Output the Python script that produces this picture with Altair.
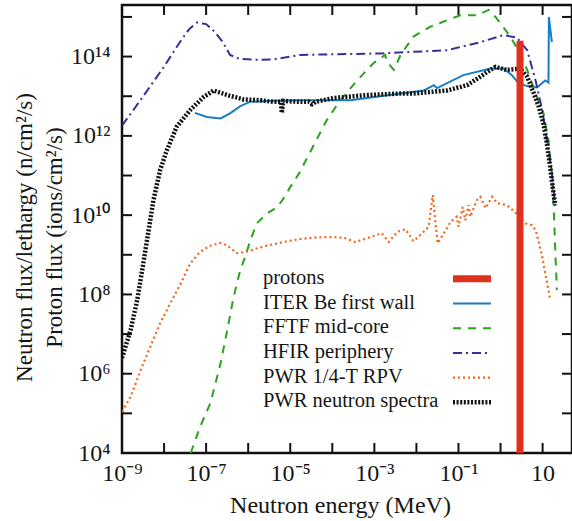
import altair as alt
import pandas as pd

# ---------------- data ----------------
series_names = ["protons", "ITER Be first wall", "FFTF mid-core", "HFIR periphery",
                "PWR 1/4-T RPV", "PWR neutron spectra"]

prot_x = [2.9, 2.9]
prot_y = [1e4, 2.5e14]

iter_x = [5.4e-8, 1.05e-7, 2.2e-7, 3.7e-7, 6.5e-7, 1.1e-6, 2.8e-6, 1.7e-5, 2.7e-4, 4.2e-3,
          0.015, 0.026, 0.031, 0.13, 0.58, 1.17, 1.86, 2.7, 4.3, 7.4, 11.5, 13.8, 14.1, 16.6]
iter_y = [3.8e12, 3.0e12, 2.75e12, 3.7e12, 5.6e12, 7.2e12, 7.6e12, 7.9e12, 7.9e12, 1.17e13,
          1.4e13, 1.9e13, 1.6e13, 3.4e13, 5.0e13, 5.0e13, 3.4e13, 2.1e13, 1.8e13, 1.66e13,
          2.5e13, 2.2e13, 1.0e15, 2.3e14]

fftf_x = [4.3e-8, 7.2e-8, 1.26e-7, 2.2e-7, 3.2e-7, 4.5e-7, 6.5e-7, 8.5e-7, 1.12e-6, 1.6e-6,
          2.8e-6, 4.9e-6, 6.9e-6, 1.0e-5, 1.6e-5, 7.4e-5, 1.55e-4, 3.9e-4, 9.5e-4, 1.8e-3,
          2.0e-3, 2.9e-3, 4.2e-3, 8.5e-3, 0.021, 0.054, 0.11, 0.28, 0.52, 0.76,
          1.07, 1.7, 2.95, 4.3, 5.6, 7.4, 10.5, 13.8, 16.6, 17.4,
          18.6, 19.5, 20.4, 21.9]
fftf_y = [1e4, 4.6e4, 1.8e5, 1.8e6, 1.3e7, 8.7e7, 4.1e8, 8.9e8, 2.3e9, 6.2e9,
          1.1e10, 1.6e10, 2.6e10, 5.1e10, 1.1e11, 2.5e12, 7.9e12, 2.5e13, 6.8e13, 1.1e14,
          7.4e13, 4.6e13, 1.1e14, 3.2e14, 5.6e14, 8.3e14, 1.1e15, 1.1e15, 1.5e15, 1.0e15,
          6.2e14, 3.2e14, 1.2e14, 4.6e13, 2.1e13, 9.5e12, 3.7e12, 7.8e11, 1.1e11, 4.3e10,
          1.1e10, 2.8e9, 7.4e8, 1.3e8]

hfir_x = [1e-9, 3.2e-9, 1e-8, 2.5e-8, 4e-8, 6e-8, 1e-7, 1.6e-7, 2.5e-7, 3.7e-7,
          6.3e-7, 1.6e-6, 4e-6, 1.74e-5, 1.4e-3, 0.054, 0.33, 1.17, 2.45, 4.3,
          6.8, 9.8, 12.6, 16.6, 20.0]
hfir_y = [1.8e12, 1e13, 5.6e13, 2.5e14, 5e14, 7.2e14, 6.6e14, 4.2e14, 2.3e14, 1.1e14,
          8.7e13, 8.3e13, 8.5e13, 1.1e14, 1.2e14, 1.45e14, 2.3e14, 3.5e14, 3.0e14, 1.45e14,
          2.5e13, 4.5e12, 7.8e11, 1.15e11, 1.6e10]

rpv_x = [1e-9, 1.6e-9, 2.75e-9, 4.7e-9, 8.1e-9, 1.4e-8, 2.5e-8, 4.2e-8, 7.2e-8, 1.26e-7,
         2.2e-7, 3.2e-7, 5.4e-7, 9.3e-7, 1.6e-6, 2.8e-6, 6.9e-6, 1.7e-5, 4.4e-5, 8.9e-5,
         1.9e-4, 3.5e-4, 6.6e-4, 1.5e-3, 2.2e-3, 3.5e-3, 5.5e-3, 8.5e-3, 0.0148, 0.0195,
         0.0245, 0.028, 0.032, 0.045, 0.065, 0.091, 0.10, 0.126, 0.145, 0.174,
         0.19, 0.275, 0.33, 0.44, 0.63, 0.83, 1.4, 2.2, 3.9, 5.6,
         6.8, 8.1, 9.8, 11.5, 13.8, 15.1]
rpv_y = [1.1e5, 2.6e5, 1.2e6, 4.8e6, 1.9e7, 5.9e7, 1.9e8, 6.0e8, 1.2e9, 1.7e9,
         2.0e9, 1.7e9, 1.1e9, 1.2e9, 1.45e9, 1.7e9, 2.1e9, 2.5e9, 2.75e9, 2.8e9,
         2.7e9, 2.1e9, 2.6e9, 3.5e9, 2.1e9, 3.8e9, 4.4e9, 2.2e9, 3.8e9, 5.1e9,
         3.2e10, 7.4e9, 1.95e9, 3.5e9, 6.8e9, 9.1e9, 5.1e9, 1.6e10, 7.4e9, 1.8e10,
         9.1e9, 2.4e10, 2.9e10, 1.5e10, 2.9e10, 2.0e10, 1.8e10, 1.2e10, 6.2e9, 5.6e9,
         4.2e9, 2.1e9, 8.9e8, 3.4e8, 1.3e8, 7.2e7]

pwrn_x = [1e-9, 1.6e-9, 2.3e-9, 3.2e-9, 4.3e-9, 5.6e-9, 8.1e-9, 1.17e-8, 2.0e-8, 4.2e-8,
          8.7e-8, 1.5e-7, 3.2e-7, 7.8e-7, 1.95e-6, 4.0e-6, 6.0e-6, 6.3e-6, 6.8e-6, 1.7e-5,
          2.8e-5, 3.3e-5, 4.0e-5, 1.07e-4, 6.6e-4, 4.2e-3, 8.5e-3, 0.054, 0.16, 0.33,
          0.48, 0.76, 1.4, 2.95, 4.3, 6.2, 8.1, 10.5, 12.6, 15.1,
          18.2, 20.0]
pwrn_y = [2.5e6, 1.26e7, 7.2e7, 6.0e8, 4.2e9, 2.4e10, 1.4e11, 4.4e11, 1.7e12, 4.5e12,
          9.5e12, 1.4e13, 1.07e13, 8.3e12, 7.9e12, 7.2e12, 7.2e12, 3.8e12, 7.6e12, 7.2e12,
          7.2e12, 6.3e12, 7.2e12, 9.0e12, 1.07e13, 1.17e13, 1.17e13, 1.4e13, 1.9e13, 3.1e13,
          4.1e13, 5.5e13, 4.6e13, 5.0e13, 3.1e13, 1.17e13, 5.4e12, 2.0e12, 6.5e11, 1.66e11,
          3.5e10, 1.8e10]

x_tick_vals = [1e-9, 1e-8, 1e-7, 1e-6, 1e-5, 1e-4, 1e-3, 1e-2, 1e-1, 1, 10]
y_tick_vals = [1e4, 1e5, 1e6, 1e7, 1e8, 1e9, 1e10, 1e11, 1e12, 1e13, 1e14, 1e15]
x_label_exps = [-9, -7, -5, -3, -1, 1]
x_label_text = ["10⁻⁹", "10⁻⁷", "10⁻⁵", "10⁻³", "10⁻¹", "10"]
y_label_exps = [4, 6, 8, 10, 12, 14]
y_label_text = ["10⁴", "10⁶", "10⁸", "10¹⁰", "10¹²", "10¹⁴"]

# ---------------- styling ----------------
W, H = 450, 448
FONT = "Liberation Serif"
TXT = "#161616"

styles = {
    "protons": dict(color="#e0301e", strokeWidth=7),
    "ITER Be first wall": dict(color="#167ec3", strokeWidth=2),
    "FFTF mid-core": dict(color="#2ca11e", strokeWidth=2, strokeDash=[8, 7]),
    "HFIR periphery": dict(color="#3b2d99", strokeWidth=2, strokeDash=[9, 4, 2, 4]),
    "PWR 1/4-T RPV": dict(color="#f4661b", strokeWidth=2.2, strokeDash=[2, 3]),
    "PWR neutron spectra": dict(color="#111111", strokeWidth=4.5, strokeDash=[2, 1.6]),
}
data_map = {
    "protons": (prot_x, prot_y),
    "ITER Be first wall": (iter_x, iter_y),
    "FFTF mid-core": (fftf_x, fftf_y),
    "HFIR periphery": (hfir_x, hfir_y),
    "PWR 1/4-T RPV": (rpv_x, rpv_y),
    "PWR neutron spectra": (pwrn_x, pwrn_y),
}


def label_expr(exps, texts):
    e = "round(log(datum.value)/LN10)"
    parts = [f"{e} == {p} ? '{t}'" for p, t in zip(exps, texts)]
    return " : ".join(parts) + " : ''"


xs = alt.Scale(type="log", domain=[1e-9, 50], nice=False)
ys = alt.Scale(type="log", domain=[1e4, 2e15], nice=False)

x_axis = alt.Axis(values=[10.0 ** p for p in x_label_exps],
                  labelExpr=label_expr(x_label_exps, x_label_text),
                  title="Neutron energy (MeV)", grid=False, ticks=False, tickSize=0,
                  domain=False, labelFont=FONT, labelFontSize=24, labelColor=TXT,
                  labelPadding=27, labelBaseline="alphabetic", labelFlush=False,
                  labelOverlap=False, titleFont=FONT, titleFontSize=24,
                  titleFontWeight="normal", titleColor=TXT, titleX=218, titleY=59,
                  titleAlign="center", titleBaseline="alphabetic")
y_axis = alt.Axis(values=[10.0 ** p for p in y_label_exps],
                  labelExpr=label_expr(y_label_exps, y_label_text),
                  title=["Neutron flux/lethargy (n/cm²/s)", "Proton flux (ions/cm²/s)"],
                  grid=False, ticks=False, tickSize=0, domain=False, labelFont=FONT,
                  labelFontSize=24, labelColor=TXT, labelPadding=12,
                  labelBaseline="middle", labelFlush=False, labelOverlap=False,
                  titleFont=FONT, titleFontSize=23, titleFontWeight="normal",
                  titleColor=TXT, titleAngle=-90, titleX=-91, titleY=232,
                  titleAlign="center", titleBaseline="alphabetic", titleLineHeight=30)


def X(field):
    return alt.X(field, type="quantitative", scale=xs, axis=x_axis)


def Y(field):
    return alt.Y(field, type="quantitative", scale=ys, axis=y_axis)


layers = []

# ticks (inward, all four sides)
xt = pd.DataFrame({"x": x_tick_vals})
yt = pd.DataFrame({"y": y_tick_vals})
tick_kw = dict(color="#111", strokeWidth=2)
layers.append(alt.Chart(xt).mark_rule(**tick_kw).encode(x=X("x"), y=alt.value(H), y2=alt.value(H - 10)))
layers.append(alt.Chart(xt).mark_rule(**tick_kw).encode(x=X("x"), y=alt.value(0), y2=alt.value(10)))
layers.append(alt.Chart(yt).mark_rule(**tick_kw).encode(y=Y("y"), x=alt.value(0), x2=alt.value(10)))
layers.append(alt.Chart(yt).mark_rule(**tick_kw).encode(y=Y("y"), x=alt.value(W - 10), x2=alt.value(W)))

# curves (protons drawn last so it sits on top)
draw_order = series_names[1:] + series_names[:1]
for name in draw_order:
    xv, yv = data_map[name]
    df = pd.DataFrame({"x": xv, "y": yv, "i": list(range(len(xv)))})
    st = dict(styles[name])
    layers.append(alt.Chart(df).mark_line(clip=True, strokeCap="butt", **st).encode(
        x=X("x"), y=Y("y"), order=alt.Order("i:Q")))

# manual legend (labels left, samples right)
LEG_TEXT_X, LEG_BASE0, LEG_STEP = 141, 278.8, 24.7
LEG_SYM_X0, LEG_SYM_X1 = 331, 369
for i, name in enumerate(series_names):
    ldf = pd.DataFrame({"label": [name]})
    base = LEG_BASE0 + i * LEG_STEP
    layers.append(alt.Chart(ldf).mark_text(font=FONT, fontSize=20.5, align="left",
                                           baseline="alphabetic", color=TXT).encode(
        x=alt.value(LEG_TEXT_X), y=alt.value(base), text="label:N"))
    st = dict(styles[name])
    layers.append(alt.Chart(ldf).mark_rule(**st).encode(
        x=alt.value(LEG_SYM_X0), x2=alt.value(LEG_SYM_X1), y=alt.value(base - 5)))

chart = alt.layer(*layers).properties(
    width=W, height=H,
    padding={"left": 122, "top": 5, "right": 0, "bottom": 68},
    autosize=alt.AutoSizeParams(type="none"),
    background="white",
).configure_view(stroke="#111", strokeWidth=2.5)

chart.save("out.html", embed_options={"renderer": "svg", "actions": False})
